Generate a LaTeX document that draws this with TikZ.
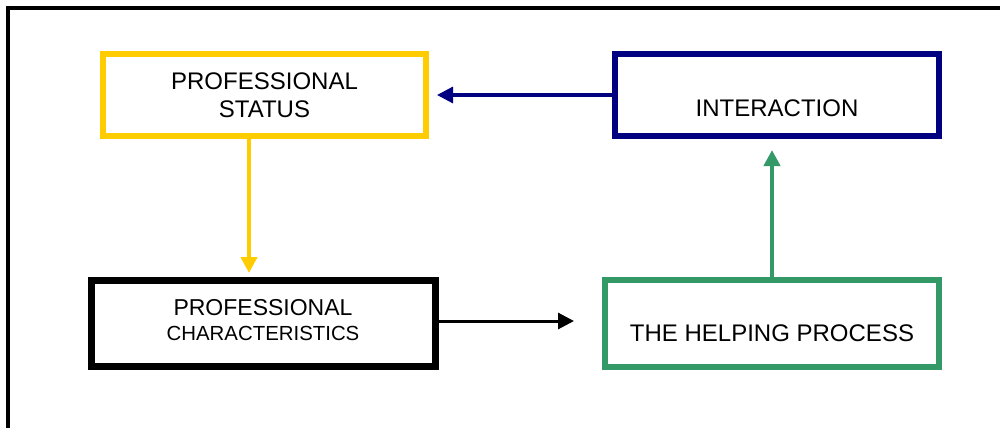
\documentclass[tikz,border=0pt]{standalone}
\usepackage{fontspec}
\setmainfont{Liberation Sans}
\usetikzlibrary{arrows.meta}
\definecolor{statyel}{HTML}{FFCC00}
\definecolor{internavy}{HTML}{000080}
\definecolor{helpgreen}{HTML}{339966}
\begin{document}
\begin{tikzpicture}[x=0.5pt,y=-0.5pt,
  box/.style={draw,line width=3pt,align=center,inner sep=0pt,font=\fontsize{12}{14}\selectfont},
  arr/.style={-{Triangle[length=8pt,width=8pt]},line width=1.75pt}]
\useasboundingbox (0,0) rectangle (1000,428);
\draw[line width=2pt] (8,428) -- (8,8) -- (1000,8);
\node[box,draw=statyel,minimum width=161.5pt,minimum height=41pt] (status) at (264.5,95) {PROFESSIONAL\\STATUS};
\node[box,draw=internavy,minimum width=162pt,minimum height=41pt,text height=21.6pt] (inter) at (777,95) {INTERACTION};
\node[box,line width=3.5pt,minimum width=172pt,minimum height=43pt,text depth=3.5pt,font=\fontsize{11.5}{12.5}\selectfont] (chars) at (263,323) {PROFESSIONAL\\{\fontsize{10.2}{12.5}\selectfont CHARACTERISTICS}};
\node[box,draw=helpgreen,minimum width=167pt,minimum height=43.5pt,text height=18.6pt] (help) at (772,323.5) {THE HELPING PROCESS};
\draw[arr,internavy,line width=1.6pt] (inter.west) -- (status.east) [shorten >=4pt];
\draw[arr,statyel,line width=2pt] ([xshift=-7.75pt]status.south) -- ([xshift=-7pt]chars.north) [shorten >=1.75pt];
\draw[arr,line width=1.5pt] ([yshift=1pt]chars.east) -- ([yshift=1pt]chars.east -| help.west) [shorten >=14pt];
\draw[arr,helpgreen,line width=2pt] (help.north) -- (help.north |- inter.south) [shorten >=5.5pt];
\end{tikzpicture}
\end{document}
